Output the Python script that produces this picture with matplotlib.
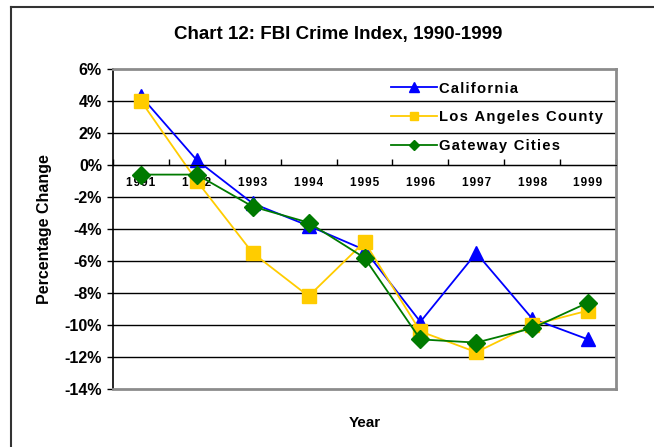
import numpy as np
import matplotlib.pyplot as plt
from matplotlib.lines import Line2D

plt.rcParams['font.family'] = ['Liberation Sans', 'DejaVu Sans']
plt.rcParams['font.weight'] = 'bold'

years = ['1991', '1992', '1993', '1994', '1995', '1996', '1997', '1998', '1999']
california = [4.3, 0.3, -2.4, -3.8, -5.3, -9.8, -5.5, -9.6, -10.9]
la_county = [4.0, -1.0, -5.5, -8.2, -4.8, -10.4, -11.7, -10.0, -9.1]
gateway = [-0.6, -0.6, -2.6, -3.6, -5.8, -10.9, -11.1, -10.2, -8.6]
series_names = ['California', 'Los Angeles County', 'Gateway Cities']
yticks = np.arange(-14, 7, 2)


def spaced(s):
    # the original chart draws these labels with wide letter spacing
    return '\u200a'.join(s)


fig = plt.figure(figsize=(6.54, 4.47), dpi=100)
ax = fig.add_axes([113 / 654, 58 / 447, 503 / 654, 320 / 447])

x = np.arange(len(years))
ax.plot(x, california, color='#0000FF', lw=1.3, marker='^', ms=10)
ax.plot(x, la_county, color='#FFCC00', lw=1.3, marker='s', ms=10)
ax.plot(x, gateway, color='#007A00', lw=1.3, marker='D', ms=9)

ax.set_xlim(-0.5, len(years) - 0.5)
ax.set_ylim(-14, 6)
ax.set_yticks(yticks)
ax.set_yticklabels(['%d%%' % v for v in yticks], fontsize=11.5, fontweight='bold')
for v in yticks[1:-1]:
    ax.axhline(v, color='black', lw=1, zorder=0)

# x axis sits on the zero line, tick marks between categories
ax.spines['bottom'].set_position(('data', 0))
ax.spines['bottom'].set_color('black')
ax.set_xticks(x)
ax.set_xticklabels([spaced(y) for y in years], fontsize=8.5, fontweight='bold')
ax.set_xticks(np.arange(len(years) + 1) - 0.5, minor=True)
ax.tick_params(axis='x', which='major', length=0, pad=9)
ax.tick_params(axis='x', which='minor', direction='in', length=4, width=1)
ax.tick_params(axis='y', direction='out', length=4, width=1, pad=4)

ax.spines['left'].set_color('black')
ax.spines['left'].set_linewidth(1.2)
for s in ['top', 'right']:
    ax.spines[s].set_color('#8c8c8c')
    ax.spines[s].set_linewidth(2)
ax.axhline(-14, color='#8c8c8c', lw=2, clip_on=False, zorder=3)

ax.set_xlabel('Year', fontsize=11, fontweight='bold')
ax.xaxis.set_label_coords(0.5, -0.085)
ax.set_ylabel('Percentage Change', fontsize=11.5, fontweight='bold')
ax.yaxis.set_label_coords(-0.122, 0.5)

handles = [
    Line2D([], [], color='#0000FF', lw=1.3, marker='^', ms=7),
    Line2D([], [], color='#FFCC00', lw=1.3, marker='s', ms=6),
    Line2D([], [], color='#007A00', lw=1.3, marker='D', ms=5.5),
]
ax.legend(handles, [spaced(n) for n in series_names],
          loc='upper right', bbox_to_anchor=(1.0, 1.0), frameon=False,
          prop={'size': 10.6, 'weight': 'bold'}, handlelength=3.1,
          handletextpad=0.2, labelspacing=1.0, borderaxespad=0.45)

fig.text(338 / 654, 1 - 35 / 447, 'Chart 12: FBI Crime Index, 1990-1999',
         ha='center', va='center', fontsize=13.5, fontweight='bold')

# outer frame (left and top edges)
fig.add_artist(Line2D([11 / 654, 11 / 654], [0, 1 - 7 / 447], color='#333333', lw=1.5))
fig.add_artist(Line2D([11 / 654, 1], [1 - 7 / 447, 1 - 7 / 447], color='#333333', lw=1.5))

fig.savefig('out.png', dpi=100)
